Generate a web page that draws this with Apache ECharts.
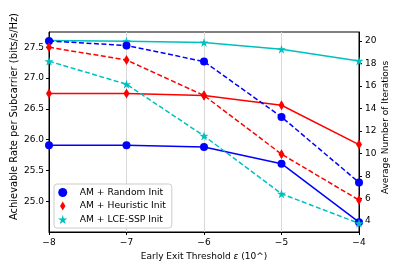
<!DOCTYPE html>
<html><head><meta charset="utf-8">
<script src="https://cdn.jsdelivr.net/npm/echarts@6/dist/echarts.min.js"></script>
<style>html,body{margin:0;padding:0;background:#fff}#c{width:399px;height:266px}</style>
</head><body><div id="c"></div>
<script>
const thresholds = [-8, -7, -6, -5, -4];
const rateRandom = [25.91, 25.91, 25.88, 25.61, 24.66];
const rateHeuristic = [26.75, 26.75, 26.72, 26.56, 25.92];
const rateLce = [27.61, 27.60, 27.58, 27.47, 27.28];
const iterRandom = [20.0, 19.6, 18.17, 13.24, 7.41];
const iterHeuristic = [19.44, 18.31, 15.15, 9.93, 5.84];
const iterLce = [18.2, 16.15, 11.55, 6.4, 3.77];
const leftTicks = [25.0, 25.5, 26.0, 26.5, 27.0, 27.5];
const rightTicks = [4, 6, 8, 10, 12, 14, 16, 18, 20];
const names = ['AM + Random Init', 'AM + Heuristic Init', 'AM + LCE-SSP Init'];
const leftTitle = 'Achievable Rate per Subcarrier (bits/s/Hz)';
const rightTitle = 'Average Number of Iterations';

const STAR = 'path://M0,-1L0.2245,-0.309L0.9511,-0.309L0.3633,0.118L0.5878,0.809L0,0.382L-0.5878,0.809L-0.3633,0.118L-0.9511,-0.309L-0.2245,-0.309Z';
const THIN_DIAMOND = 'path://M0,-1L0.6,0L0,1L-0.6,0Z';
const colors = ['#0000ff', '#ff0000', '#00bfbf'];
const symbols = ['circle', THIN_DIAMOND, STAR];
const sizes = [8, [6, 10], 9];
const FONT = 'DejaVu Sans';

function pts(vals) { return thresholds.map((t, i) => [t, vals[i]]); }
function mk(idx, vals, yAxisIndex, dashed) {
  return {
    name: names[idx], type: 'line', yAxisIndex, data: pts(vals),
    symbol: symbols[idx], symbolSize: sizes[idx], showAllSymbol: true,
    itemStyle: { color: colors[idx] },
    lineStyle: { color: colors[idx], width: 1.5, type: dashed ? [5, 2.5] : 'solid' },
    emphasis: { disabled: true }, animation: false, z: 3
  };
}
const minus = v => String(v).replace('-', '\u2212');

const chart = echarts.init(document.getElementById('c'), null, { renderer: 'canvas' });
chart.setOption({
  animation: false,
  textStyle: { fontFamily: FONT },
  grid: { left: 49, right: 40, top: 32, bottom: 34, show: true, borderColor: '#000', borderWidth: 1, backgroundColor: 'transparent', containLabel: false, outerBoundsMode: 'none' },
  graphic: [
    { type: 'text', x: 14, y: 116.5, rotation: Math.PI / 2, silent: true,
      style: { text: leftTitle, fontFamily: FONT, fontSize: 9.9, fill: '#000', align: 'center', verticalAlign: 'middle' } },
    { type: 'text', x: 386, y: 127.5, rotation: Math.PI / 2, silent: true,
      style: { text: rightTitle, fontFamily: FONT, fontSize: 9, fill: '#000', align: 'center', verticalAlign: 'middle' } }
  ],
  legend: {
    left: 54, top: 184, orient: 'vertical', itemGap: 4.5, itemWidth: 16, itemHeight: 9,
    padding: [4, 6, 4, 4], symbolKeepAspect: true,
    backgroundColor: 'rgba(255,255,255,0.8)', borderColor: '#cccccc', borderWidth: 1, borderRadius: 3,
    textStyle: { fontFamily: FONT, fontSize: 9.2, color: '#000', padding: [0, 0, 0, 4] },
    data: [
      { name: names[0], icon: 'circle' },
      { name: names[1], icon: THIN_DIAMOND },
      { name: names[2], icon: STAR }
    ],
    selectedMode: false
  },
  xAxis: {
    type: 'value', min: -8, max: -4, interval: 1,
    name: 'Early Exit Threshold {i|ε} (10^)', nameLocation: 'middle', nameGap: 19,
    nameTextStyle: { fontFamily: FONT, fontSize: 9, color: '#000', rich: { i: { fontStyle: 'italic', fontFamily: FONT, fontSize: 9 } } },
    axisLine: { lineStyle: { color: '#000', width: 1 } },
    axisTick: { show: true, inside: false, length: 3, lineStyle: { color: '#000' } },
    axisLabel: { fontFamily: FONT, fontSize: 9, color: '#000', margin: 6, formatter: minus },
    splitLine: { show: true, lineStyle: { color: '#d8d8d8', width: 1 } }
  },
  yAxis: [
    {
      type: 'value', min: 24.5, max: 27.75, position: 'left',
      axisLine: { show: true, lineStyle: { color: '#000', width: 1 } },
      axisTick: { show: true, length: 3, customValues: leftTicks, lineStyle: { color: '#000' } },
      axisLabel: { fontFamily: FONT, fontSize: 9, color: '#000', margin: 5, customValues: leftTicks, formatter: v => v.toFixed(1) },
      splitLine: { show: false }
    },
    {
      type: 'value', min: 3.0, max: 20.8, position: 'right',
      axisLine: { show: true, lineStyle: { color: '#000', width: 1 } },
      axisTick: { show: true, length: 3, customValues: rightTicks, lineStyle: { color: '#000' } },
      axisLabel: { fontFamily: FONT, fontSize: 9, color: '#000', margin: 6, customValues: rightTicks, formatter: v => String(v) },
      splitLine: { show: false }
    }
  ],
  series: [
    mk(0, rateRandom, 0, false),
    mk(1, rateHeuristic, 0, false),
    mk(2, rateLce, 0, false),
    mk(0, iterRandom, 1, true),
    mk(1, iterHeuristic, 1, true),
    mk(2, iterLce, 1, true)
  ]
});
</script></body></html>
